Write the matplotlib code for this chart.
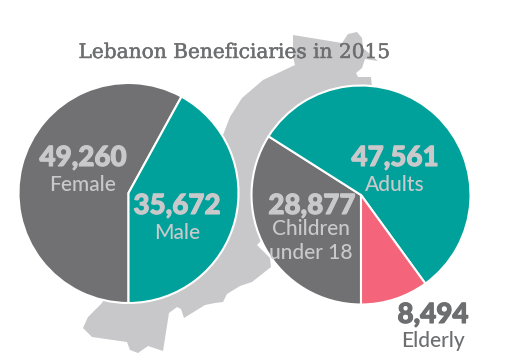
#!/usr/bin/env python

import matplotlib
matplotlib.use('Agg')
import matplotlib.pyplot as plt
import matplotlib.patheffects as pe
from matplotlib.patches import Polygon

gender_labels = ['Female', 'Male']
gender_values = [49260, 35672]
gender_colors = ['#717073', '#00A19A']

age_labels = ['Children under 18', 'Adults', 'Elderly']
age_values = [28877, 47561, 8494]
age_colors = ['#717073', '#00A19A', '#F4647A']

H = 364

# outline of the map behind the pies, in image pixels
map_outline = [(293, 35), (342, 43), (348, 34), (357, 32), (362, 38), (363, 48), (378, 61),
               (365, 59), (362, 68), (356, 73), (358, 77), (371, 77), (372, 87), (372, 130),
               (300, 200), (257, 245), (260, 248), (270, 258), (271, 267), (252, 282),
               (240, 286), (227, 294), (223, 302), (215, 303), (205, 305), (184, 318),
               (181, 309), (177, 307), (169, 313), (163, 351), (148, 346), (138, 353),
               (130, 350), (127, 342), (92, 337), (83, 328), (88, 317), (102, 303),
               (130, 250), (180, 180), (223, 135), (230, 117), (242, 98), (263, 80),
               (295, 65), (293, 57)]


def fy(y):
    return H - y


fig = plt.figure(figsize=(5.12, 3.64), dpi=100)
ax = fig.add_axes([0, 0, 1, 1])

ax.add_patch(Polygon([(x, fy(y)) for x, y in map_outline], closed=True,
                     facecolor='#C8C8CA', edgecolor='none', zorder=0))

wedge = dict(edgecolor='white', linewidth=1.5)
ax.pie(gender_values, colors=gender_colors, startangle=270, counterclock=False,
       center=(128.5, fy(193)), radius=110, wedgeprops=wedge, frame=True)
ax.pie(age_values, colors=age_colors, startangle=270, counterclock=False,
       center=(361, fy(195)), radius=109.5, wedgeprops=wedge, frame=True)

ax.set_xlim(0, 512)
ax.set_ylim(0, H)
ax.set_aspect('auto')
ax.axis('off')

light = '#C9C9CB'
dark = '#6D6E70'


def big(x, y, s, col):
    t = ax.text(x, fy(y), s, color=col, fontsize=20, family='Lato', weight='black',
                ha='center', va='center')
    t.set_path_effects([pe.withStroke(linewidth=0.8, foreground=col)])


def small(x, y, s, col):
    ax.text(x, fy(y), s, color=col, fontsize=15, family='Lato', weight='medium',
            ha='center', va='center')


t = ax.text(234.5, fy(52.5), 'Lebanon Beneficiaries in 2015', color=dark, fontsize=14.5,
            family='DejaVu Serif', ha='center', va='center')
t.set_path_effects([pe.withStroke(linewidth=0.3, foreground=dark)])

big(83, 158, f'{gender_values[0]:,}', light)
small(83, 185, gender_labels[0], light)
big(177, 206, f'{gender_values[1]:,}', light)
small(177, 233, gender_labels[1], light)
big(395, 158, f'{age_values[1]:,}', light)
small(395, 185, age_labels[1], light)
big(312, 206, f'{age_values[0]:,}', light)
small(311, 229, 'Children', light)
small(311, 253, 'under 18', light)
big(433, 315, f'{age_values[2]:,}', dark)
small(433, 341, age_labels[2], dark)

fig.savefig('out.png', dpi=100)
